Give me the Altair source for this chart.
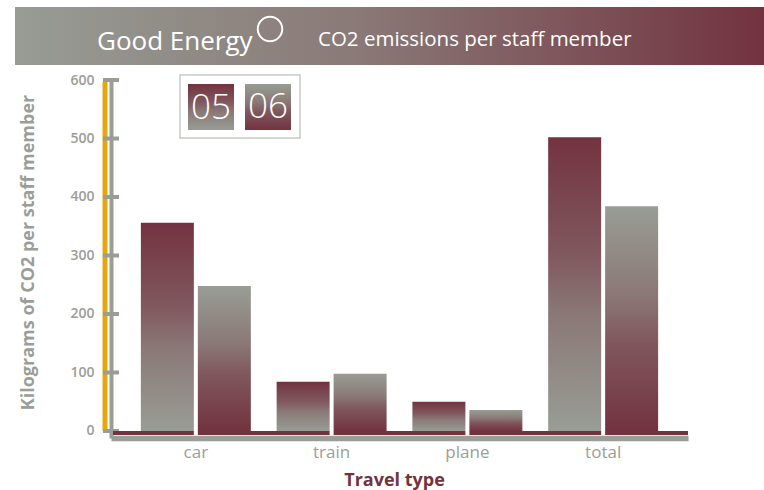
import altair as alt
import pandas as pd

# ---------------- data ----------------
categories = ["car", "train", "plane", "total"]
years = ["05", "06"]
values_05 = [356, 84, 50, 502]
values_06 = [248, 98, 36, 384]
y_ticks = [0, 100, 200, 300, 400, 500, 600]
brand = "Good Energy"
subtitle = "CO2 emissions per staff member"
y_title = "Kilograms of CO2 per staff member"
x_title = "Travel type"

# ---------------- styles ----------------
FONT = "Open Sans"
MAROON = "#72333f"
GRAY = "#989d95"
AXIS_GRAY = "#9a9e96"
GOLD = "#e2a80f"

df = pd.DataFrame({
    "category": categories * 2,
    "year": [years[0]] * len(categories) + [years[1]] * len(categories),
    "value": values_05 + values_06,
})
legend_df = pd.DataFrame({"year": years})
tick_df = pd.DataFrame({"tick": y_ticks})
one = pd.DataFrame({"brand": [brand], "subtitle": [subtitle]})
cat_df = pd.DataFrame({"category": categories})


def vgrad(top, bottom, mid1, mid2):
    return alt.LinearGradient(
        gradient="linear", x1=0, x2=0, y1=0, y2=1,
        stops=[alt.GradientStop(color=top, offset=0),
               alt.GradientStop(color=mid1, offset=0.4),
               alt.GradientStop(color=mid2, offset=0.6),
               alt.GradientStop(color=bottom, offset=1)],
    )


grad_05 = vgrad(MAROON, GRAY, "#80585e", "#8a7876")
grad_06 = vgrad(GRAY, MAROON, "#8a7876", "#80585e")
banner_grad = alt.LinearGradient(
    gradient="linear", x1=0, x2=1, y1=0, y2=0,
    stops=[alt.GradientStop(color="#979c94", offset=0),
           alt.GradientStop(color="#8a7a78", offset=0.45),
           alt.GradientStop(color=MAROON, offset=1)],
)

yscale = alt.Scale(domain=[-12, 600], nice=False, zero=False)
xscale = alt.Scale(paddingInner=0.19, paddingOuter=0.22)
xoff = alt.XOffset("year:N", scale=alt.Scale(domain=years, paddingInner=0.07, paddingOuter=0))

x_axis = alt.Axis(labelAngle=0, ticks=False, grid=False, labelPadding=6,
                  domainWidth=5.5, domainColor=GRAY, labelColor=AXIS_GRAY,
                  labelFontSize=17, labelFont=FONT,
                  titleColor=MAROON, titleFontSize=18, titleFontWeight="bold",
                  titleFont=FONT, titleX=283, titleY=42, titleBaseline="middle",
                  titleAlign="center")
y_axis = alt.Axis(values=y_ticks, ticks=False, grid=False, labelPadding=17,
                  domainWidth=4, domainColor=GRAY, labelColor=AXIS_GRAY,
                  labelFontSize=14, labelFontWeight=600, labelFont=FONT,
                  titleColor=AXIS_GRAY, titleFontSize=18, titleFontWeight="bold",
                  titleFont=FONT, titleX=-83, titleY=172, titleAngle=-90,
                  titleAlign="center", titleBaseline="middle")

# ---------------- banner ----------------
banner = alt.Chart(one).mark_rect(fill=banner_grad).encode(
    x=alt.value(-96), x2=alt.value(653), y=alt.value(-73), y2=alt.value(-15))
brand_text = alt.Chart(one).mark_text(
    align="left", baseline="alphabetic", fontSize=26, color="white", font=FONT
).encode(x=alt.value(-14), y=alt.value(-30), text="brand:N")
logo = alt.Chart(one).mark_point(
    shape="circle", filled=False, size=600, stroke="white", strokeWidth=2, opacity=1
).encode(x=alt.value(159), y=alt.value(-51))
sub_text = alt.Chart(one).mark_text(
    align="left", baseline="alphabetic", fontSize=20.5, color="white", font=FONT
).encode(x=alt.value(207), y=alt.value(-34), text="subtitle:N")

# ---------------- legend ----------------
legend_box = alt.Chart(one).mark_rect(fill="white", stroke="#c6cac4", strokeWidth=1.5).encode(
    x=alt.value(69), x2=alt.value(189), y=alt.value(-5), y2=alt.value(58))
sw05 = alt.Chart(legend_df).transform_filter(alt.datum.year == years[0]).mark_rect(fill=grad_05).encode(
    x=alt.value(77), x2=alt.value(123), y=alt.value(4), y2=alt.value(50))
sw06 = alt.Chart(legend_df).transform_filter(alt.datum.year == years[1]).mark_rect(fill=grad_06).encode(
    x=alt.value(134), x2=alt.value(180), y=alt.value(4), y2=alt.value(50))
lt05 = alt.Chart(legend_df).transform_filter(alt.datum.year == years[0]).mark_text(
    fontSize=35, color="white", font=FONT, fontWeight=300, baseline="middle", align="center"
).encode(x=alt.value(100), y=alt.value(28), text="year:N")
lt06 = alt.Chart(legend_df).transform_filter(alt.datum.year == years[1]).mark_text(
    fontSize=35, color="white", font=FONT, fontWeight=300, baseline="middle", align="center"
).encode(x=alt.value(157), y=alt.value(27), text="year:N")

# ---------------- axis decorations ----------------
gold = alt.Chart(one).mark_rule(color=GOLD, strokeWidth=5).encode(
    x=alt.value(-6), y=alt.datum(597), y2=alt.datum(0))
ticks = alt.Chart(tick_df).mark_rule(color=GRAY, strokeWidth=4).encode(
    y=alt.Y("tick:Q", title=y_title, scale=yscale, axis=y_axis),
    x=alt.value(-8), x2=alt.value(8))
band = alt.Chart(one).mark_rect(color=MAROON).encode(
    x=alt.value(2), x2=alt.value(577), y=alt.datum(0), y2=alt.datum(-6.8))

# ---------------- bars ----------------
bars05 = alt.Chart(df).transform_filter(alt.datum.year == years[0]).mark_bar(fill=grad_05).encode(
    x=alt.X("category:N", sort=categories, title=x_title, scale=xscale, axis=x_axis),
    xOffset=xoff,
    y=alt.Y("value:Q", title=y_title, scale=yscale, axis=y_axis),
)
bars06 = alt.Chart(df).transform_filter(alt.datum.year == years[1]).mark_bar(fill=grad_06).encode(
    x=alt.X("category:N", sort=categories, title=x_title, scale=xscale, axis=x_axis),
    xOffset=xoff,
    y=alt.Y("value:Q", title=y_title, scale=yscale, axis=y_axis),
)
gaps = alt.Chart(cat_df).mark_rule(color="white", strokeWidth=4).encode(
    x=alt.X("category:N", sort=categories, title=x_title, scale=xscale, axis=x_axis),
    y=alt.datum(0), y2=alt.datum(-6.8))

chart = alt.layer(
    banner, brand_text, logo, sub_text,
    gold, ticks, band, bars05, bars06, gaps,
    legend_box, sw05, sw06, lt05, lt06,
).properties(
    width=577, height=358,
    padding={"left": 111, "top": 80, "right": 76, "bottom": 52},
    autosize=alt.AutoSizeParams(type="none"),
    background="white",
).configure_view(stroke=None)

chart.save("out.html", embed_options={"renderer": "svg", "actions": False})
